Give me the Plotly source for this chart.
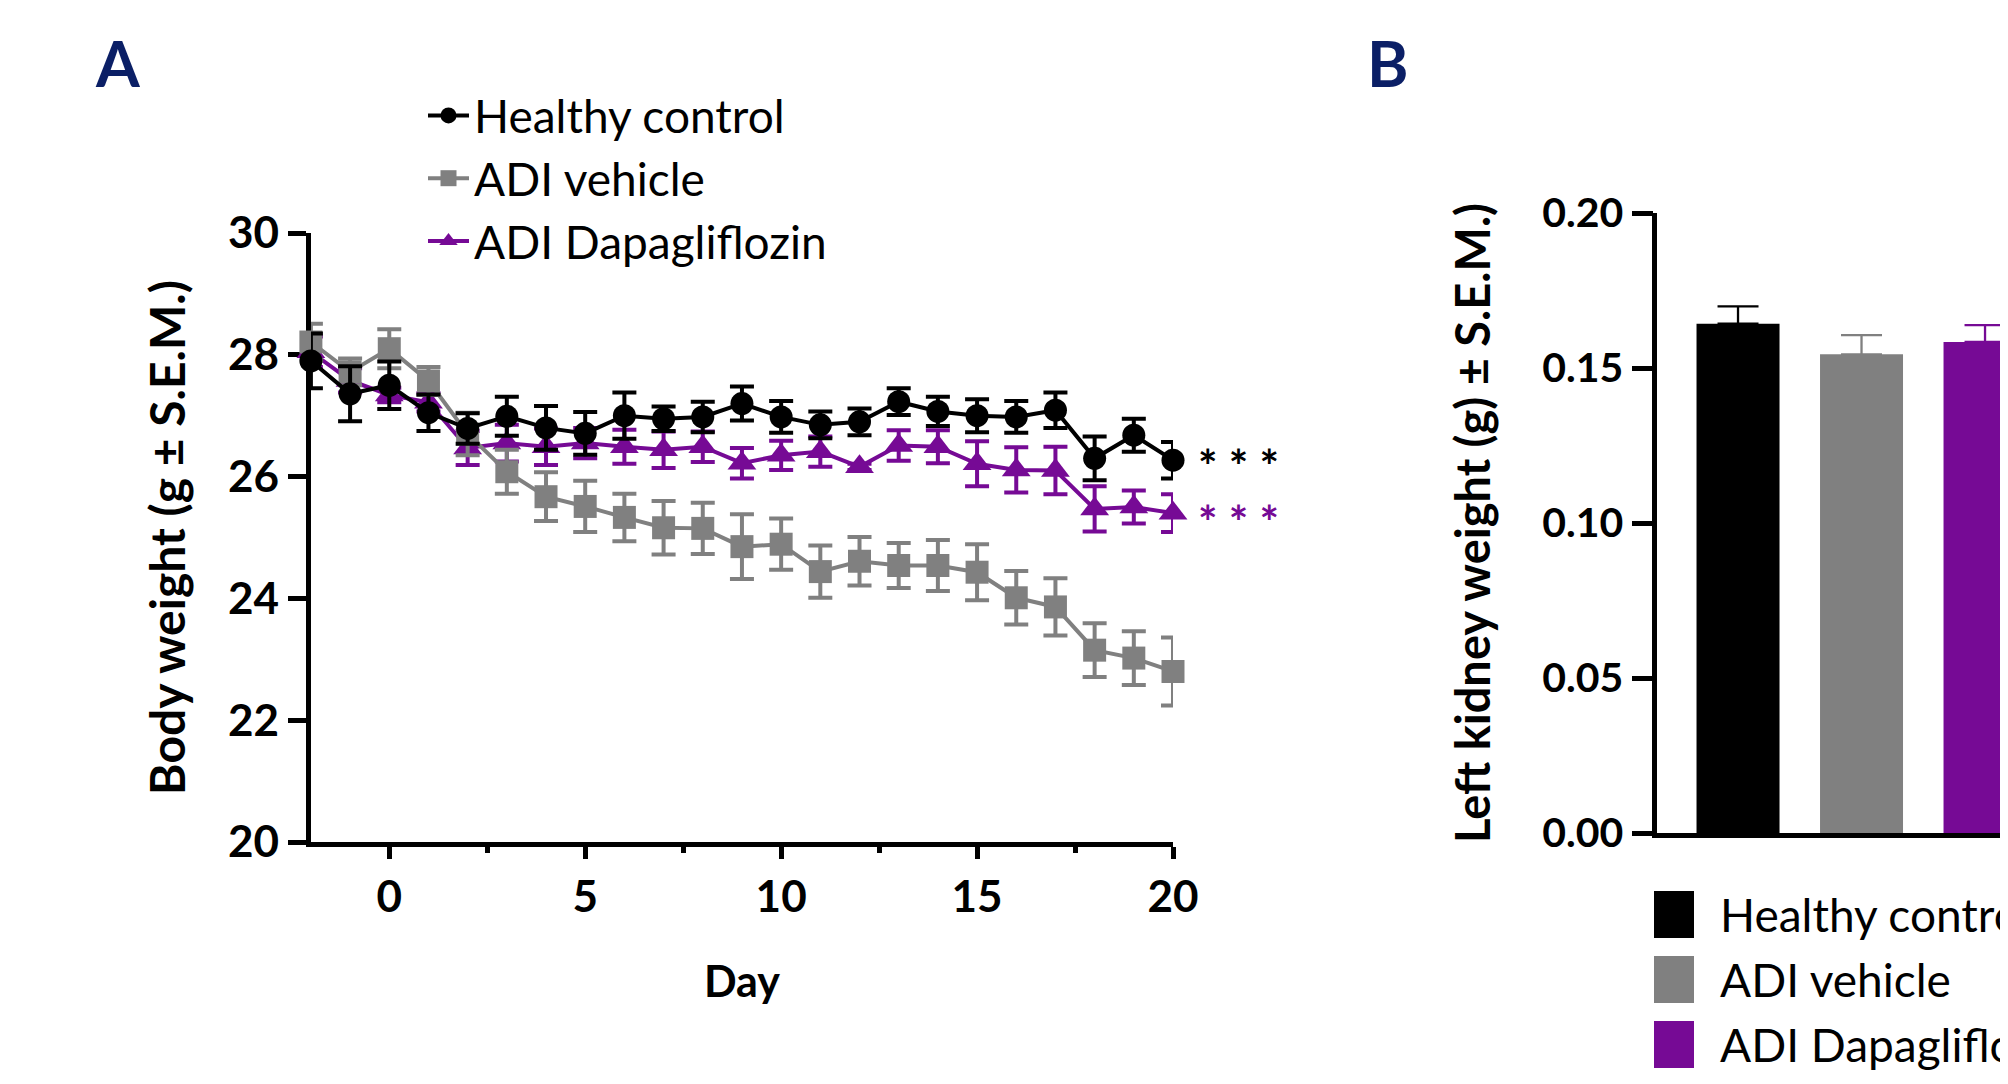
import plotly.graph_objects as go

# ---------------- data ----------------
days = list(range(-2, 21))

healthy_mean = [27.90, 27.36, 27.50, 27.05, 26.79, 26.99, 26.80, 26.71, 27.00, 26.95, 26.98,
                27.20, 26.98, 26.85, 26.90, 27.23, 27.07, 27.00, 26.98, 27.09, 26.30, 26.68, 26.27]
healthy_sem = [0.45, 0.45, 0.39, 0.30, 0.25, 0.32, 0.36, 0.35, 0.38, 0.20, 0.25,
               0.28, 0.26, 0.22, 0.22, 0.22, 0.24, 0.27, 0.26, 0.29, 0.36, 0.27, 0.30]

vehicle_mean = [28.21, 27.72, 28.10, 27.57, 26.70, 26.08, 25.67, 25.51, 25.33, 25.16, 25.15,
                24.85, 24.89, 24.44, 24.61, 24.54, 24.54, 24.43, 24.01, 23.86, 23.15, 23.02, 22.80]
vehicle_sem = [0.30, 0.22, 0.32, 0.23, 0.35, 0.36, 0.40, 0.42, 0.39, 0.44, 0.42,
               0.53, 0.42, 0.43, 0.40, 0.37, 0.42, 0.46, 0.44, 0.47, 0.44, 0.44, 0.56]

dapa_mean = [28.05, 27.58, 27.34, 27.22, 26.47, 26.55, 26.49, 26.55, 26.49, 26.44, 26.49,
             26.22, 26.35, 26.41, 26.16, 26.51, 26.49, 26.21, 26.11, 26.10, 25.47, 25.50, 25.40]
dapa_sem = [0.25, 0.20, 0.12, 0.15, 0.28, 0.30, 0.30, 0.25, 0.28, 0.30, 0.25,
            0.25, 0.24, 0.25, 0.05, 0.25, 0.27, 0.37, 0.37, 0.39, 0.37, 0.27, 0.31]

groups = ["Healthy control", "ADI vehicle", "ADI Dapagliflozin"]
kidney_mean = [0.1643, 0.1544, 0.1584]
kidney_sem = [0.0056, 0.0062, 0.0054]

significance = "* * *"

# ---------------- style ----------------
BLACK = "#000000"
GRAY = "#808080"
PURPLE = "#760A95"
NAVY = "#0B1F66"
colors = [BLACK, GRAY, PURPLE]
FONT = "Lato"
OFF = 8            # the page body adds an 8px offset
W, H = 2000, 1068


def px_x(p):
    return (p - OFF) / W


def px_y(p):
    return 1 - (p - OFF) / H


fig = go.Figure()

series = [
    ("Healthy control", healthy_mean, healthy_sem, BLACK, "circle", 23, 1),
    ("ADI vehicle", vehicle_mean, vehicle_sem, GRAY, "square", 23, 2),
    ("ADI Dapagliflozin", dapa_mean, dapa_sem, PURPLE, "triangle-up", 25, 3),
]

# draw back-to-front: purple, gray, black (first data set on top)
for name, mean, sem, col, sym, size, rank in reversed(series):
    fig.add_trace(go.Scatter(
        x=days, y=mean, name=name, mode="lines+markers",
        line=dict(color=col, width=4),
        marker=dict(color=col, symbol=sym, size=size, line=dict(width=0)),
        error_y=dict(type="data", array=sem, visible=True, color=col, thickness=4, width=12),
        cliponaxis=False, legendrank=rank,
        xaxis="x", yaxis="y",
    ))

for i, (g, m, s, col) in enumerate(zip(groups, kidney_mean, kidney_sem, colors)):
    fig.add_trace(go.Bar(
        x=[i], y=[m], name=g, width=0.672,
        marker=dict(color=col, line=dict(width=0)),
        error_y=dict(type="data", array=[s], arrayminus=[0], symmetric=False,
                     color=col, thickness=2.3, width=20.5, visible=True),
        showlegend=False, xaxis="x2", yaxis="y2",
    ))

tickfont = dict(family=FONT, size=44, color=BLACK, weight="bold")

fig.update_layout(
    width=W, height=H,
    margin=dict(l=0, r=0, t=0, b=0, pad=0, autoexpand=False),
    template="none",
    paper_bgcolor="white", plot_bgcolor="white",
    font=dict(family=FONT, color=BLACK),
    barmode="overlay",
    showlegend=True,
    legend=dict(
        x=px_x(423), y=px_y(79), xanchor="left", yanchor="top",
        font=dict(family=FONT, size=46, color=BLACK),
        bgcolor="rgba(0,0,0,0)", borderwidth=0, itemwidth=41,
        traceorder="normal", tracegroupgap=0,
    ),
    xaxis=dict(
        domain=[px_x(310.9), px_x(1173)], range=[-2, 20], anchor="y",
        tickvals=[0, 5, 10, 15, 20], ticks="outside", ticklen=12, tickwidth=5, tickcolor=BLACK,
        minor=dict(tickvals=[2.5, 7.5, 12.5, 17.5], ticks="outside", ticklen=6, tickwidth=5,
                   tickcolor=BLACK, showgrid=False),
        showline=True, linewidth=5, linecolor=BLACK, showgrid=False, zeroline=False,
        tickfont=tickfont, ticklabelstandoff=0,
        title=dict(text="Day", font=dict(family=FONT, size=43, color=BLACK, weight="bold"), standoff=49),
        layer="below traces", automargin=False,
    ),
    yaxis=dict(
        domain=[px_y(842), px_y(233)], range=[20, 30], anchor="x",
        tickvals=[20, 22, 24, 26, 28, 30], ticks="outside", ticklen=18, tickwidth=5, tickcolor=BLACK,
        showline=True, linewidth=5, linecolor=BLACK, showgrid=False, zeroline=False,
        tickfont=tickfont, ticklabelstandoff=0,
        title=dict(text="Body weight (g ± S.E.M.)",
                   font=dict(family=FONT, size=48, color=BLACK, weight="bold"), standoff=29),
        layer="below traces", automargin=False,
    ),
    xaxis2=dict(
        domain=[px_x(1657.25), 1], range=[-0.654, 2.186], anchor="y2",
        showticklabels=False, ticks="", showline=True, linewidth=4.5, linecolor=BLACK,
        showgrid=False, zeroline=False, automargin=False,
    ),
    yaxis2=dict(
        domain=[px_y(833), px_y(213)], range=[0, 0.20], anchor="x2",
        tickvals=[0, 0.05, 0.10, 0.15, 0.20], tickformat=".2f",
        ticks="outside", ticklen=21, tickwidth=4.5, tickcolor=BLACK,
        showline=True, linewidth=4.5, linecolor=BLACK, showgrid=False, zeroline=False,
        tickfont=dict(family=FONT, size=41, color=BLACK, weight="bold"), ticklabelstandoff=0,
        title=dict(text="Left kidney weight (g) ± S.E.M.)",
                   font=dict(family=FONT, size=47, color=BLACK, weight="bold"), standoff=38),
        automargin=False,
    ),
)

# panel letters
fig.add_annotation(text="A", x=px_x(93), y=px_y(62), xref="paper", yref="paper",
                   xanchor="left", yanchor="middle", showarrow=False,
                   font=dict(family=FONT, size=63, color=NAVY, weight="bold"))
fig.add_annotation(text="B", x=px_x(1365), y=px_y(62), xref="paper", yref="paper",
                   xanchor="left", yanchor="middle", showarrow=False,
                   font=dict(family=FONT, size=63, color=NAVY, weight="bold"))

# significance marks next to the last points
fig.add_annotation(text=significance, x=days[-1], y=healthy_mean[-1], xref="x", yref="y",
                   xanchor="left", yanchor="middle", xshift=23, yshift=-5, showarrow=False,
                   font=dict(family=FONT, size=46, color=BLACK, weight="bold"))
fig.add_annotation(text=significance, x=days[-1], y=dapa_mean[-1], xref="x", yref="y",
                   xanchor="left", yanchor="middle", xshift=23, yshift=-8, showarrow=False,
                   font=dict(family=FONT, size=46, color=PURPLE, weight="bold"))

# legend for panel B (large swatches)
for i, (g, col) in enumerate(zip(groups, colors)):
    cy = 914.5 + i * 65
    fig.add_shape(type="rect", xref="paper", yref="paper",
                  x0=px_x(1654), x1=px_x(1694), y0=px_y(cy + 23.5), y1=px_y(cy - 23.5),
                  fillcolor=col, line=dict(width=0))
    fig.add_annotation(text=g, x=px_x(1718), y=px_y(cy), xref="paper", yref="paper",
                       xanchor="left", yanchor="middle", showarrow=False,
                       font=dict(family=FONT, size=46, color=BLACK))

fig.write_html("out.html")
